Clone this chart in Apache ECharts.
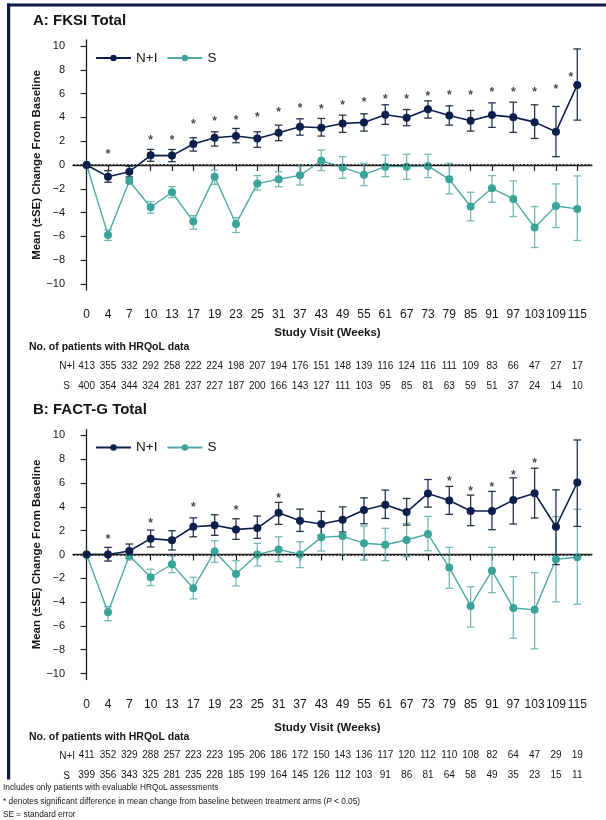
<!DOCTYPE html>
<html><head><meta charset="utf-8">
<script src="https://cdn.jsdelivr.net/npm/echarts@6.0.0/dist/echarts.min.js"></script>
<style>html,body{margin:0;padding:0;background:#fff}#c{width:606px;height:820px}</style>
</head><body><div id="c"></div><script>
// ---- data ----
const weeks = ['0','4','7','10','13','17','19','23','25','31','37','43','49','55','61','67','73','79','85','91','97','103','109','115'];
const yTicks = [-10,-8,-6,-4,-2,0,2,4,6,8,10];

// Panel A: FKSI Total
const fksiNI   = [0,-0.98,-0.56,0.81,0.79,1.76,2.29,2.43,2.23,2.71,3.21,3.13,3.49,3.58,4.22,3.97,4.69,4.16,3.72,4.19,4.02,3.60,2.79,6.73];
const fksiNIhi = [0,-0.48,-0.10,1.31,1.30,2.29,2.79,3.07,2.79,3.35,3.88,3.91,4.19,4.30,5.06,4.66,5.39,4.97,4.58,5.22,5.28,5.06,4.92,9.75];
const fksiNIlo = [0,-1.45,-1.00,0.31,0.28,1.17,1.59,1.87,1.48,2.04,2.51,2.43,2.74,2.85,3.41,3.30,3.94,3.35,2.85,3.16,2.74,2.23,0.70,3.77];
const fksiS    = [0,-5.87,-1.34,-3.55,-2.29,-4.75,-0.98,-4.95,-1.56,-1.20,-0.87,0.36,-0.20,-0.81,-0.14,-0.14,-0.08,-1.20,-3.49,-1.96,-2.85,-5.25,-3.44,-3.69];
const fksiShi  = [0,-5.45,-1.12,-3.07,-1.82,-4.25,-0.42,-4.42,-0.89,-0.56,-0.10,1.26,0.70,0.14,0.84,0.90,0.90,0.14,-2.29,-0.89,-1.34,-3.49,-1.59,-0.92];
const fksiSlo  = [0,-6.34,-1.54,-4.05,-2.74,-5.39,-1.62,-5.67,-2.10,-1.82,-1.68,-0.47,-1.12,-1.73,-0.98,-1.20,-1.06,-2.43,-4.69,-3.13,-4.33,-6.93,-5.25,-6.34];
const fksiStarX = [1,3,4,5,6,7,8,9,10,11,12,13,14,15,16,17,18,19,20,21,22,22.7];
const fksiStarY = [1.1,2.3,2.3,3.6,3.85,3.95,4.2,4.65,5.0,4.9,5.25,5.45,5.7,5.7,6.0,6.1,6.1,6.3,6.35,6.35,6.6,7.55];
const fksiNNI = [413,355,332,292,258,222,224,198,207,194,176,151,148,139,116,124,116,111,109,83,66,47,27,17];
const fksiNS  = [400,354,344,324,281,237,227,187,200,166,143,127,111,103,95,85,81,63,59,51,37,24,14,10];

// Panel B: FACT-G Total
const factNI   = [0,0.00,0.29,1.33,1.19,2.33,2.45,2.11,2.22,3.50,2.83,2.56,2.92,3.73,4.18,3.56,5.13,4.54,3.65,3.65,4.57,5.15,2.33,6.05];
const factNIhi = [0,0.60,0.88,2.05,2.00,3.08,3.34,3.00,3.23,4.38,3.81,3.62,4.00,4.76,5.41,4.71,6.30,5.72,4.99,5.30,6.44,7.25,5.43,9.62];
const factNIlo = [0,-0.55,-0.32,0.63,0.38,1.49,1.61,1.27,1.36,2.53,1.94,1.61,1.89,2.58,3.03,2.47,3.98,3.37,2.42,2.08,2.56,3.06,-0.85,2.36];
const factS    = [0,-4.85,-0.10,-1.91,-0.82,-2.83,0.26,-1.64,0.00,0.43,0.00,1.44,1.55,0.94,0.82,1.22,1.72,-1.10,-4.32,-1.36,-4.49,-4.65,-0.40,-0.23];
const factShi  = [0,-4.37,0.30,-1.24,-0.13,-1.91,1.16,-0.52,0.94,1.49,1.07,2.60,3.06,2.40,2.20,2.62,3.20,0.60,-2.70,0.60,-1.86,-1.53,3.18,3.80];
const factSlo  = [0,-5.57,-0.45,-2.61,-1.53,-3.73,-0.65,-2.64,-0.96,-0.60,-1.10,0.29,0.04,-0.46,-0.52,-0.18,0.32,-2.84,-6.10,-3.20,-7.03,-7.92,-3.98,-4.18];
const factStarX = [1,3,5,7,9,17,18,19,20,21];
const factStarY = [1.47,2.87,4.2,3.95,4.96,6.38,5.57,5.85,6.86,7.9];
const factNNI = [411,352,329,288,257,223,223,195,206,186,172,150,143,136,117,120,112,110,108,82,64,47,29,19];
const factNS  = [399,356,343,325,281,235,228,185,199,164,145,126,112,103,91,86,81,64,58,49,35,23,15,11];

// ---- styling ----
const FONT = '"Liberation Sans", Arial, Helvetica, sans-serif';
const NAVY = '#0c1e4c', TEAL = '#3aa39a', TEAL_LINE = '#4eaaa3', NAVY_ERR = '#283349', TEAL_ERR = '#78b8b3', INK = '#151515';
const XMIN = -0.64, XMAX = 23.69, YMIN = -10.5, YMAX = 10.5;
const idx = weeks.map((_, i) => i);

const panels = [
  {top: 40, ni: fksiNI, niHi: fksiNIhi, niLo: fksiNIlo, s: fksiS, sHi: fksiShi, sLo: fksiSlo, sx: fksiStarX, sy: fksiStarY, nNI: fksiNNI, nS: fksiNS},
  {top: 429.5, ni: factNI, niHi: factNIhi, niLo: factNIlo, s: factS, sHi: factShi, sLo: factSlo, sx: factStarX, sy: factStarY, nNI: factNNI, nS: factNS}
];

const grids = [], xAxes = [], yAxes = [], series = [], legends = [];

function errSeries(k, lo, hi, color) {
  return {
    type: 'custom', xAxisIndex: k * 3, yAxisIndex: k, silent: true, z: 2,
    data: lo.map((l, i) => [i, l, hi[i]]),
    encode: {x: 0, y: [1, 2]},
    renderItem: (params, api) => {
      const a = api.coord([api.value(0), api.value(1)]);
      const b = api.coord([api.value(0), api.value(2)]);
      if (Math.abs(a[1] - b[1]) < 0.5) return null;
      const w = 3.8, st = {stroke: color, lineWidth: 1.3};
      return {type: 'group', children: [
        {type: 'line', shape: {x1: a[0], y1: a[1], x2: b[0], y2: b[1]}, style: st},
        {type: 'line', shape: {x1: a[0] - w, y1: a[1], x2: a[0] + w, y2: a[1]}, style: st},
        {type: 'line', shape: {x1: b[0] - w, y1: b[1], x2: b[0] + w, y2: b[1]}, style: st}
      ]};
    }
  };
}

panels.forEach((p, k) => {
  grids.push({left: 73, top: p.top, width: 519, height: 250});
  const base = {gridIndex: k, type: 'value', min: XMIN, max: XMAX, splitLine: {show: false}, position: 'bottom'};
  xAxes.push(Object.assign({}, base, {
    axisLine: {show: true, lineStyle: {color: '#222', width: 1.3}},
    axisTick: {show: true, customValues: idx, length: 6, lineStyle: {color: '#222', width: 1.2}},
    axisLabel: {customValues: idx, formatter: v => weeks[v], margin: 19, fontSize: 12, color: INK, fontFamily: FONT}
  }));
  xAxes.push(Object.assign({}, base, {
    axisLine: {show: false}, axisTick: {show: false},
    axisLabel: {customValues: idx, formatter: v => String(p.nNI[v]), margin: 71, fontSize: 10, color: INK, fontFamily: FONT}
  }));
  xAxes.push(Object.assign({}, base, {
    axisLine: {show: false}, axisTick: {show: false},
    axisLabel: {customValues: idx, formatter: v => String(p.nS[v]), margin: 91, fontSize: 10, color: INK, fontFamily: FONT}
  }));
  yAxes.push({
    gridIndex: k, type: 'value', min: YMIN, max: YMAX, splitLine: {show: false},
    axisLine: {show: true, lineStyle: {color: '#222', width: 1.3}},
    axisTick: {show: true, customValues: yTicks, length: 6, lineStyle: {color: '#222', width: 1.2}},
    axisLabel: {customValues: yTicks, formatter: v => String(v).replace('-', '\u2212'), margin: 8, fontSize: 11, color: INK, fontFamily: FONT},
    name: 'Mean (\u00b1SE) Change From Baseline', nameLocation: 'middle', nameGap: 30, nameMoveOverlap: false,
    nameTextStyle: {fontSize: 11.5, fontWeight: 'bold', color: INK, fontFamily: FONT}
  });
  series.push(errSeries(k, p.sLo, p.sHi, TEAL_ERR));
  series.push(errSeries(k, p.niLo, p.niHi, NAVY_ERR));
  series.push({
    name: 'S', type: 'line', xAxisIndex: k * 3, yAxisIndex: k, z: 3,
    data: p.s.map((v, i) => [i, v]), symbol: 'circle', symbolSize: 8,
    itemStyle: {color: TEAL}, lineStyle: {color: TEAL_LINE, width: 1.4}, animation: false,
    markLine: {silent: true, symbol: ['none', 'none'], label: {show: false},
      lineStyle: {color: '#1a1a1a', type: [2, 1.6], width: 1.6}, data: [{yAxis: 0}]}
  });
  series.push({
    name: 'N+I', type: 'line', xAxisIndex: k * 3, yAxisIndex: k, z: 4,
    data: p.ni.map((v, i) => [i, v]), symbol: 'circle', symbolSize: 8,
    itemStyle: {color: NAVY}, lineStyle: {color: NAVY, width: 1.6}, animation: false
  });
  series.push({
    type: 'scatter', xAxisIndex: k * 3, yAxisIndex: k, z: 5, silent: true,
    data: p.sx.map((x, i) => [x, p.sy[i]]), symbol: 'circle', symbolSize: 2,
    itemStyle: {color: 'rgba(0,0,0,0)'},
    label: {show: true, position: 'inside', formatter: '*', fontSize: 12, fontWeight: 'bold', color: INK, fontFamily: FONT, offset: [0, 3]}
  });
  legends.push({
    left: 90, top: p.top + 6, itemWidth: 35, itemHeight: 8, itemGap: 9,
    data: ['N+I', 'S'], textStyle: {fontSize: 13.5, color: INK, fontFamily: FONT}
  });
});

function txt(x, y, text, size, weight, align) {
  return {type: 'text', x: x, y: y, silent: true,
    style: {text: text, fontSize: size, fontWeight: weight || 'normal', fontFamily: FONT, fill: INK, align: align || 'left', verticalAlign: 'middle'}};
}

const graphics = [
  {type: 'rect', shape: {x: 7, y: 3.5, width: 3.2, height: 776}, style: {fill: '#0d1b45'}, silent: true},
  {type: 'rect', shape: {x: 7, y: 3.5, width: 599, height: 3}, style: {fill: '#0d1b45'}, silent: true},
  txt(33, 21, 'A: FKSI Total', 15, 'bold'),
  txt(33, 409.5, 'B: FACT-G Total', 15, 'bold'),
  txt(327.5, 333, 'Study Visit (Weeks)', 11.5, 'bold', 'center'),
  txt(29, 347, 'No. of patients with HRQoL data', 10.5, 'bold'),
  txt(75, 366, 'N+I', 10, 'normal', 'right'),
  txt(70, 386, 'S', 10, 'normal', 'right'),
  txt(327.5, 728, 'Study Visit (Weeks)', 11.5, 'bold', 'center'),
  txt(29, 737, 'No. of patients with HRQoL data', 10.5, 'bold'),
  txt(75, 756, 'N+I', 10, 'normal', 'right'),
  txt(70, 776, 'S', 10, 'normal', 'right'),
  txt(3, 788, 'Includes only patients with evaluable HRQoL assessments', 8.3),
  {type: 'text', x: 3, y: 802, silent: true, style: {
    text: '* denotes significant difference in mean change from baseline between treatment arms ({i|P} < 0.05)',
    fontSize: 8.3, fontFamily: FONT, fill: INK, verticalAlign: 'middle',
    rich: {i: {fontStyle: 'italic', fontSize: 8.3, fontFamily: FONT, fill: INK}}}},
  txt(3, 815, 'SE = standard error', 8.3)
];

const chart = echarts.init(document.getElementById('c'), null, {renderer: 'canvas'});
chart.setOption({
  backgroundColor: '#ffffff',
  animation: false,
  grid: grids, xAxis: xAxes, yAxis: yAxes, series: series, legend: legends,
  graphic: graphics
});
</script></body></html>
